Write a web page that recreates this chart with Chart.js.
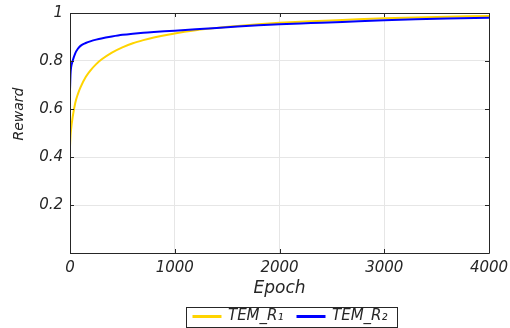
<!DOCTYPE html>
<html>
<head>
<meta charset="utf-8">
<script src="https://cdn.jsdelivr.net/npm/chart.js@4/dist/chart.umd.min.js"></script>
<style>
  html, body { margin: 0; padding: 0; background: #ffffff; }
  #wrap { width: 510px; height: 328px; position: relative; }
</style>
</head>
<body>
<div id="wrap"><canvas id="c" width="510" height="328"></canvas></div>
<script>
// ---- data ----
const epochs   = [0, 5, 10, 25, 50, 75, 100, 150, 200, 250, 300, 400, 500, 600, 700, 800, 1000, 1200, 1400, 1600, 1800, 2000, 2300, 2600, 3000, 3300, 3600, 4000];
const rewardR1 = [0.443, 0.49, 0.515, 0.565, 0.625, 0.662, 0.69, 0.733, 0.763, 0.787, 0.806, 0.835, 0.857, 0.874, 0.887, 0.898, 0.915, 0.928, 0.938, 0.946, 0.953, 0.959, 0.966, 0.971, 0.978, 0.981, 0.984, 0.988];
const rewardR2 = [0.68, 0.745, 0.772, 0.80, 0.832, 0.851, 0.863, 0.875, 0.883, 0.889, 0.894, 0.902, 0.909, 0.914, 0.918, 0.921, 0.926, 0.932, 0.938, 0.944, 0.949, 0.953, 0.958, 0.963, 0.970, 0.974, 0.977, 0.980];
const seriesNames = ['TEM_R\u2081', 'TEM_R\u2082'];
const xTicks = [0, 1000, 2000, 3000, 4000];
const yTicks = [0, 0.2, 0.4, 0.6, 0.8, 1];
const xTitle = 'Epoch';
const yTitle = 'Reward';

const FONT = 'DejaVu Sans';
const TXT = '#262626';

const toPts = (ys) => epochs.map((e, i) => ({ x: e, y: ys[i] }));

const framePlugin = {
  id: 'frame',
  afterUpdate(chart) {
    const lg = chart.legend;
    if (!lg || !lg.legendHitBoxes || !lg.legendHitBoxes.length) return;
    const hb = lg.legendHitBoxes;
    const l = Math.min(...hb.map(h => h.left));
    const r = Math.max(...hb.map(h => h.left + h.width));
    const t = Math.min(...hb.map(h => h.top));
    const dx = Math.round(290 - (l + r) / 2);
    const dy = 309 - t;
    lg.left += dx; lg.right += dx; lg.top += dy;
    lg.bottom = chart.height + 2;           // keep the whole legend inside its clip box
    lg.height = lg.bottom - lg.top;
    hb.forEach(h => { h.left += dx; h.top += dy; });
  },
  afterDatasetsDraw(chart) {
    const { ctx, chartArea: a, scales } = chart;
    ctx.save();
    ctx.strokeStyle = '#262626';
    ctx.lineWidth = 1;
    const L = 4;
    xTicks.forEach(v => {
      const px = Math.round(scales.x.getPixelForValue(v)) + 0.5;
      ctx.beginPath();
      ctx.moveTo(px, a.bottom); ctx.lineTo(px, a.bottom - L);
      ctx.moveTo(px, a.top); ctx.lineTo(px, a.top + L);
      ctx.stroke();
    });
    yTicks.forEach(v => {
      const py = Math.round(scales.y.getPixelForValue(v)) + 0.5;
      ctx.beginPath();
      ctx.moveTo(a.left, py); ctx.lineTo(a.left + L, py);
      ctx.moveTo(a.right, py); ctx.lineTo(a.right - L, py);
      ctx.stroke();
    });
    ctx.beginPath();
    ctx.moveTo(Math.round(a.left) + 0.5, Math.round(a.top) + 0.5);
    ctx.lineTo(Math.round(a.right) + 0.5, Math.round(a.top) + 0.5);
    ctx.lineTo(Math.round(a.right) + 0.5, Math.round(a.bottom) + 0.5);
    ctx.lineTo(Math.round(a.left) + 0.5, Math.round(a.bottom) + 0.5);
    ctx.closePath();
    ctx.stroke();
    ctx.restore();
  },
  afterDraw(chart) {
    const { ctx } = chart;
    ctx.save();
    ctx.fillStyle = TXT;
    ctx.font = 'italic 14px "' + FONT + '"';
    ctx.textAlign = 'center';
    ctx.textBaseline = 'middle';
    ctx.translate(19, 114);
    ctx.rotate(-Math.PI / 2);
    ctx.fillText(yTitle, 0, 0);
    ctx.restore();
    const lg = chart.legend;
    if (lg && lg.legendHitBoxes && lg.legendHitBoxes.length) {
      const hb = lg.legendHitBoxes;
      const x0 = Math.floor(Math.min(...hb.map(h => h.left)) - 7) + 0.5;
      const x1 = Math.floor(Math.max(...hb.map(h => h.left + h.width)) + 10) + 0.5;
      const y0 = Math.floor(Math.min(...hb.map(h => h.top)) - 2) + 0.5;
      const y1 = 327.5;
      ctx.save();
      ctx.strokeStyle = '#262626';
      ctx.lineWidth = 1;
      ctx.strokeRect(x0, y0, x1 - x0, y1 - y0);
      ctx.restore();
    }
  }
};

new Chart(document.getElementById('c'), {
  type: 'line',
  data: {
    datasets: [
      { label: seriesNames[0], data: toPts(rewardR1), borderColor: '#ffd400', backgroundColor: '#ffd400',
        borderWidth: 2, pointRadius: 0, cubicInterpolationMode: 'monotone', order: 1 },
      { label: seriesNames[1], data: toPts(rewardR2), borderColor: '#0000ff', backgroundColor: '#0000ff',
        borderWidth: 2, pointRadius: 0, cubicInterpolationMode: 'monotone', order: 0 }
    ]
  },
  options: {
    responsive: false,
    animation: false,
    events: [],
    layout: { padding: { left: 0, right: 21, top: 13, bottom: 0 } },
    plugins: {
      tooltip: { enabled: false },
      legend: {
        position: 'bottom',
        maxHeight: 25,
        labels: {
          font: { family: FONT, size: 15, style: 'italic' },
          color: TXT,
          boxWidth: 27,
          boxHeight: 1,
          padding: 14,
          sort: (a, b) => a.datasetIndex - b.datasetIndex
        }
      }
    },
    scales: {
      x: {
        type: 'linear',
        min: 0, max: 4000,
        afterBuildTicks: (s) => { s.ticks = xTicks.map(v => ({ value: v })); },
        afterFit: (s) => { s.height = 50; s.paddingLeft = 0; s.paddingRight = 0; },
        grid: { color: '#e6e6e6', drawTicks: false },
        border: { display: false },
        ticks: { font: { family: FONT, size: 15, style: 'italic' }, color: TXT, padding: 6, maxRotation: 0,
                 callback: (v) => String(v) },
        title: { display: true, text: xTitle, font: { family: FONT, size: 17, style: 'italic' }, color: TXT, padding: { top: 0, bottom: 4 } }
      },
      y: {
        min: 0, max: 1,
        afterBuildTicks: (s) => { s.ticks = yTicks.map(v => ({ value: v })); },
        afterFit: (s) => { s.width = 70; s.paddingTop = 0; s.paddingBottom = 0; },
        grid: { color: '#e6e6e6', drawTicks: false },
        border: { display: false },
        ticks: { font: { family: FONT, size: 15, style: 'italic' }, color: TXT, padding: 7,
                 callback: (v) => v === 0 ? '' : String(v) }
      }
    }
  },
  plugins: [framePlugin]
});
</script>
</body>
</html>
